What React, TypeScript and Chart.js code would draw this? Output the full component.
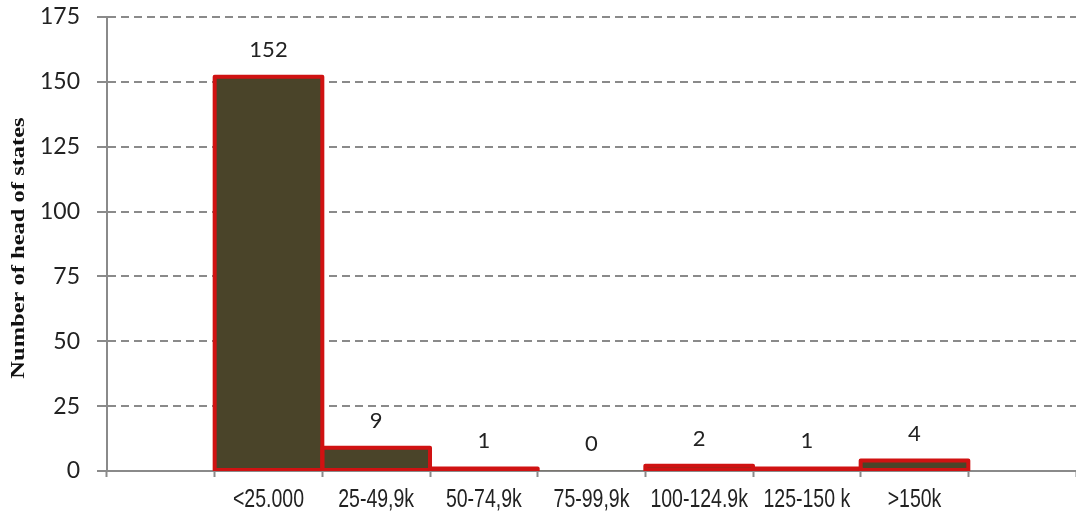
import React, { useEffect, useRef } from "react";
import { Chart, registerables } from "chart.js";

Chart.register(...registerables);

// Income bands; the first and last slots are left empty as side margins.
const categories = ["", "<25.000", "25-49,9k", "50-74,9k", "75-99,9k", "100-124.9k", "125-150 k", ">150k", ""];
const headCounts: (number | null)[] = [null, 152, 9, 1, 0, 2, 1, 4, null];
const yTicks = [0, 25, 50, 75, 100, 125, 150, 175];

const yTitle = "Number of head of states";

const BAR_FILL = "#4a4429";
const BAR_EDGE = "#d01212";

// Horizontal squeeze used for the condensed lettering of the axis texts.
const NARROW = 0.78;

// Outline each bar with a stroke centred on its edges (office-chart style).
const barOutline = {
  id: "barOutline",
  afterDatasetsDraw(chart: any) {
    const ctx = chart.ctx;
    const area = chart.chartArea;
    const meta = chart.getDatasetMeta(0);
    ctx.save();
    ctx.beginPath();
    ctx.rect(area.left, area.top - 10, area.right - area.left, area.bottom - area.top + 10);
    ctx.clip();
    ctx.strokeStyle = BAR_EDGE;
    ctx.lineWidth = 4;
    ctx.lineJoin = "round";
    meta.data.forEach((bar: any, i: number) => {
      const v = headCounts[i];
      if (!v) return;
      const left = bar.x - bar.width / 2;
      const h = bar.base - bar.y;
      ctx.strokeRect(left, bar.y, bar.width, h);
    });
    ctx.restore();
  },
};

const valueLabels = {
  id: "valueLabels",
  afterDatasetsDraw(chart: any) {
    const ctx = chart.ctx;
    const meta = chart.getDatasetMeta(0);
    ctx.save();
    ctx.font = "22px Lato, 'Noto Sans', sans-serif";
    ctx.fillStyle = "#222";
    ctx.textAlign = "center";
    ctx.textBaseline = "middle";
    meta.data.forEach((bar: any, i: number) => {
      const v = headCounts[i];
      if (v === null || v === undefined) return;
      ctx.fillText(String(v), bar.x, bar.y - 27);
    });
    ctx.restore();
  },
};

// Category names and the y-axis title in a condensed style.
const axisTexts = {
  id: "axisTexts",
  afterDraw(chart: any) {
    const ctx = chart.ctx;
    const xs = chart.scales.x;
    const area = chart.chartArea;
    ctx.save();
    ctx.fillStyle = "#222";
    ctx.textAlign = "center";
    ctx.textBaseline = "alphabetic";
    ctx.font = "25px 'Liberation Sans', Arial, sans-serif";
    categories.forEach((label, i) => {
      if (!label) return;
      const x = xs.getPixelForValue(i);
      ctx.save();
      ctx.translate(x, xs.top + 36);
      ctx.scale(NARROW, 1);
      ctx.fillText(label, 0, 0);
      ctx.restore();
    });
    ctx.save();
    ctx.fillStyle = "#111";
    ctx.font = "bold 24.5px 'Liberation Serif', 'DejaVu Serif', serif";
    ctx.textBaseline = "middle";
    ctx.translate(19, (area.top + area.bottom) / 2 + 4);
    ctx.rotate(-Math.PI / 2);
    ctx.scale(1, NARROW);
    ctx.fillText(yTitle, 0, 0);
    ctx.restore();
    ctx.restore();
  },
};

export default function App() {
  const ref = useRef<HTMLCanvasElement | null>(null);

  useEffect(() => {
    document.body.style.margin = "0";
    const canvas = ref.current;
    if (!canvas) return;
    const chart = new Chart(canvas, {
      type: "bar",
      data: {
        labels: categories,
        datasets: [
          {
            data: headCounts,
            backgroundColor: BAR_FILL,
            borderWidth: 0,
            categoryPercentage: 1,
            barPercentage: 1,
          },
        ],
      },
      options: {
        responsive: false,
        animation: false,
        layout: { padding: 0 },
        plugins: {
          legend: { display: false },
          tooltip: { enabled: false },
        },
        scales: {
          x: {
            offset: true,
            grid: {
              display: true,
              offset: true,
              drawOnChartArea: false,
              drawTicks: true,
              tickLength: 6,
              tickColor: "#8a8a8a",
              tickWidth: 2,
            },
            border: { display: true, color: "#8a8a8a", width: 2 },
            ticks: { display: false, autoSkip: false },
            afterFit(scale: any) {
              scale.height = 44;
              scale.paddingLeft = 0;
              scale.paddingRight = 0;
            },
          },
          y: {
            min: 0,
            max: 175,
            afterBuildTicks(scale: any) {
              scale.ticks = yTicks.map((v) => ({ value: v }));
            },
            grid: {
              color: "#8a8a8a",
              lineWidth: 2,
              drawTicks: true,
              tickLength: 10,
              tickColor: "#8a8a8a",
              tickWidth: 2,
              tickBorderDash: [],
            },
            border: { display: true, color: "#8a8a8a", width: 2, dash: [8, 5] },
            ticks: {
              color: "#222",
              padding: 17,
              font: { family: "Lato, 'Noto Sans', sans-serif", size: 23 },
            },
            afterFit(scale: any) {
              scale.width = 107;
              scale.paddingTop = 17;
              scale.paddingBottom = 0;
            },
          },
        },
      },
      plugins: [barOutline, valueLabels, axisTexts],
    });
    return () => chart.destroy();
  }, []);

  return (
    <div style={{ width: 1076, height: 515 }}>
      <canvas ref={ref} width={1076} height={515} style={{ display: "block" }} />
    </div>
  );
}
